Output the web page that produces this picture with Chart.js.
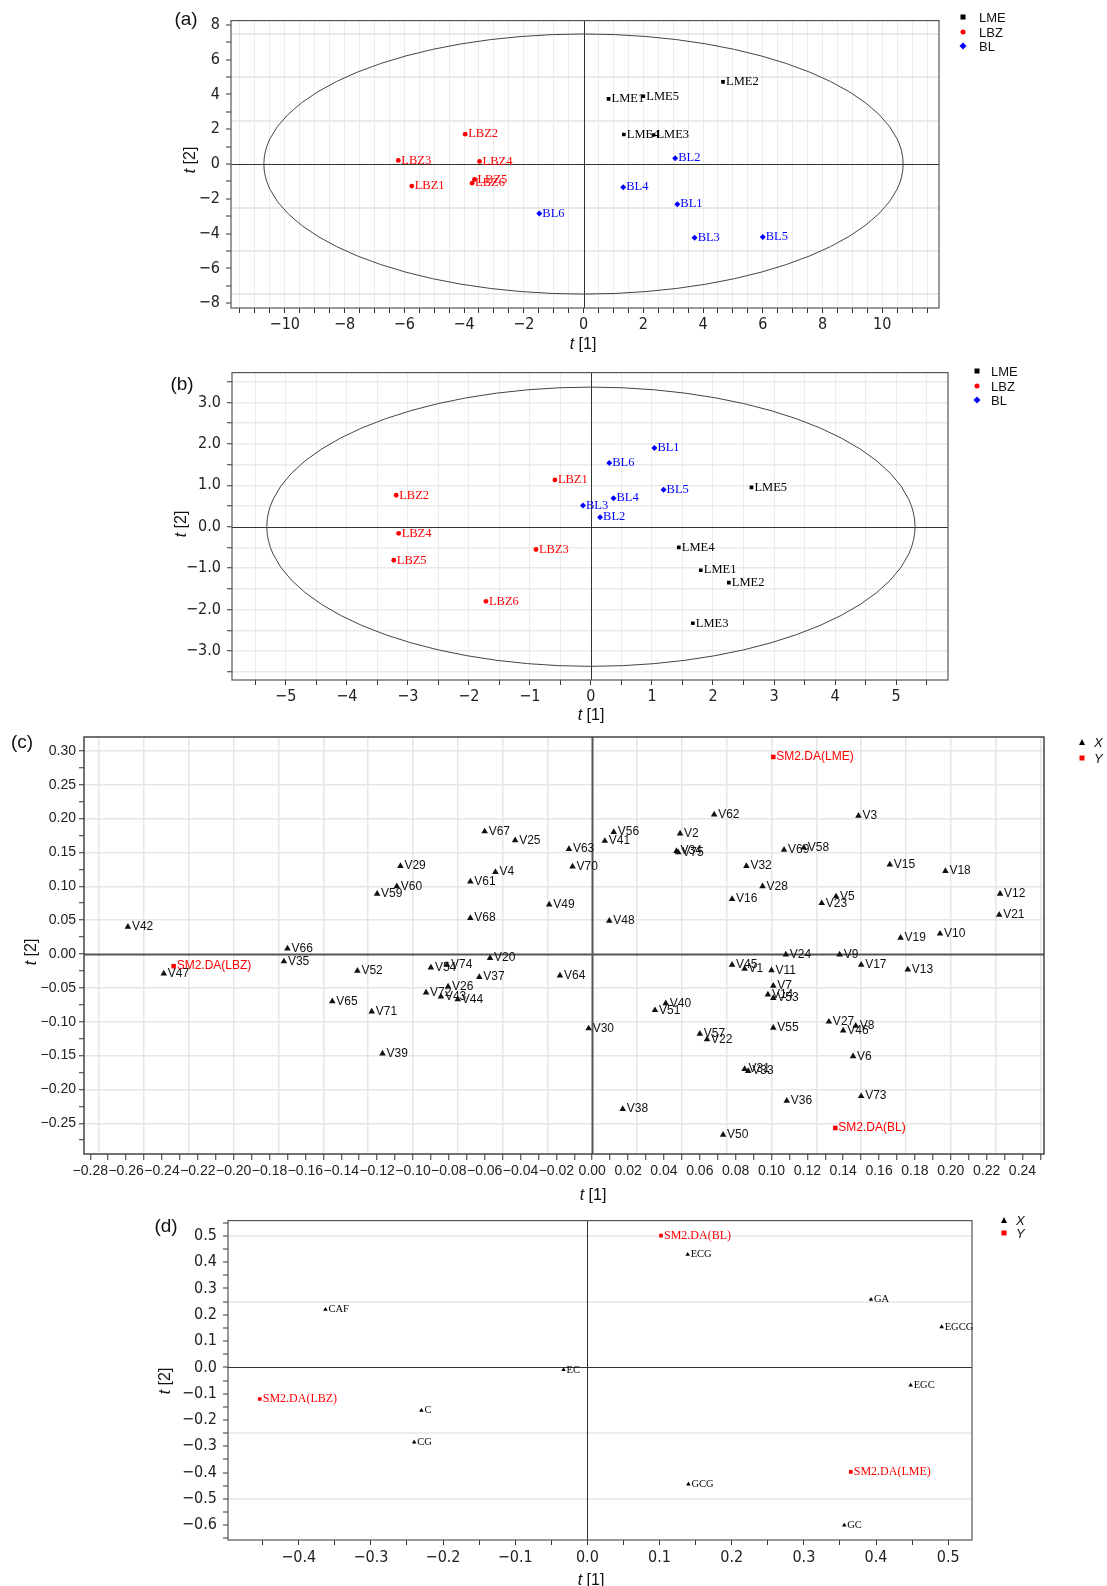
<!DOCTYPE html>
<html>
<head>
<meta charset="utf-8">
<script src="https://cdn.jsdelivr.net/npm/chart.js@4.4.0/dist/chart.umd.min.js"></script>
<style>
  body { margin: 0; background: #fff; width: 1107px; height: 1586px; position: relative; overflow: hidden;
         font-family: 'Liberation Sans', Arial, sans-serif; color: #111; }
  canvas { position: absolute; left: 0; }
  .t { position: absolute; white-space: nowrap; transform: translate(-50%, -50%); }
  .ttl { font-size: 16px; }
  .rot { transform: translate(-50%, -50%) rotate(-90deg); }
  .plab { font-size: 19px; }
  .lg { position: absolute; font-size: 13px; white-space: nowrap; transform: translateY(-50%); }
  .mk { position: absolute; transform: translate(-50%, -50%); }
</style>
</head>
<body>
<canvas id="chartA"></canvas>
<canvas id="chartB"></canvas>
<canvas id="chartC"></canvas>
<canvas id="chartD"></canvas>

<div class="t plab" style="left:186px;top:19px">(a)</div>
<div class="t plab" style="left:182px;top:384px">(b)</div>
<div class="t plab" style="left:22px;top:742px">(c)</div>
<div class="t plab" style="left:166px;top:1226px">(d)</div>

<div class="t ttl" style="left:583px;top:344px"><i>t</i> [1]</div>
<div class="t ttl rot" style="left:190px;top:160px"><i>t</i> [2]</div>
<div class="t ttl" style="left:591px;top:715px"><i>t</i> [1]</div>
<div class="t ttl rot" style="left:181px;top:524px"><i>t</i> [2]</div>
<div class="t ttl" style="left:593px;top:1195px"><i>t</i> [1]</div>
<div class="t ttl rot" style="left:31px;top:952px"><i>t</i> [2]</div>
<div class="t ttl" style="left:591px;top:1580px"><i>t</i> [1]</div>
<div class="t ttl rot" style="left:165px;top:1381px"><i>t</i> [2]</div>

<script>
// ===== DATA =====
// (a) scores, all samples
const aLmeNames = ['LME1', 'LME2', 'LME3', 'LME4', 'LME5'];
const aLmeT1 = [0.84, 4.67, 2.34, 1.35, 2.00];
const aLmeT2 = [3.75, 4.73, 1.67, 1.70, 3.90];
const aLbzNames = ['LBZ1', 'LBZ2', 'LBZ3', 'LBZ4', 'LBZ5', 'LBZ6'];
const aLbzT1 = [-5.75, -3.96, -6.20, -3.48, -3.65, -3.73];
const aLbzT2 = [-1.27, 1.72, 0.21, 0.15, -0.89, -1.10];
const aBlNames = ['BL1', 'BL2', 'BL3', 'BL4', 'BL5', 'BL6'];
const aBlT1 = [3.14, 3.07, 3.72, 1.33, 6.00, -1.48];
const aBlT2 = [-2.31, 0.34, -4.24, -1.33, -4.20, -2.84];

// (b) scores
const bLmeNames = ['LME1', 'LME2', 'LME3', 'LME4', 'LME5'];
const bLmeT1 = [1.80, 2.26, 1.67, 1.44, 2.63];
const bLmeT2 = [-1.05, -1.35, -2.33, -0.50, 0.95];
const bLbzNames = ['LBZ1', 'LBZ2', 'LBZ3', 'LBZ4', 'LBZ5', 'LBZ6'];
const bLbzT1 = [-0.59, -3.19, -0.90, -3.15, -3.23, -1.72];
const bLbzT2 = [1.13, 0.76, -0.55, -0.16, -0.81, -1.80];
const bBlNames = ['BL1', 'BL2', 'BL3', 'BL4', 'BL5', 'BL6'];
const bBlT1 = [1.04, 0.15, -0.13, 0.37, 1.19, 0.30];
const bBlT2 = [1.90, 0.23, 0.51, 0.69, 0.89, 1.54];

// (c) loadings, volatile variables (X) and classes (Y)
const cXNames = ['V1', 'V2', 'V3', 'V4', 'V5', 'V6', 'V7', 'V8', 'V9', 'V10',
  'V11', 'V12', 'V13', 'V14', 'V15', 'V16', 'V17', 'V18', 'V19', 'V20',
  'V21', 'V22', 'V23', 'V24', 'V25', 'V26', 'V27', 'V28', 'V29', 'V30',
  'V31', 'V32', 'V33', 'V34', 'V35', 'V36', 'V37', 'V38', 'V39', 'V40',
  'V41', 'V42', 'V43', 'V44', 'V45', 'V46', 'V47', 'V48', 'V49', 'V50',
  'V51', 'V52', 'V53', 'V54', 'V55', 'V56', 'V57', 'V58', 'V59', 'V60',
  'V61', 'V62', 'V63', 'V64', 'V65', 'V66', 'V67', 'V68', 'V69', 'V70',
  'V71', 'V72', 'V73', 'V74', 'V75'];
const cXT1 = [0.085, 0.049, 0.1485, -0.054, 0.136, 0.1455, 0.101, 0.147, 0.138, 0.194,
  0.100, 0.2275, 0.176, 0.098, 0.166, 0.078, 0.150, 0.197, 0.172, -0.057,
  0.227, 0.064, 0.128, 0.108, -0.043, -0.0804, 0.132, 0.095, -0.107, -0.002,
  0.085, 0.086, 0.087, 0.047, -0.172, 0.1085, -0.063, 0.017, -0.117, 0.041,
  0.007, -0.259, -0.0844, -0.075, 0.078, 0.140, -0.239, 0.0095, -0.024, 0.073,
  0.035, -0.131, 0.101, -0.090, 0.101, 0.012, 0.060, 0.118, -0.120, -0.109,
  -0.068, 0.068, -0.013, -0.018, -0.145, -0.170, -0.060, -0.068, 0.107, -0.011,
  -0.123, -0.0927, 0.150, -0.081, 0.048];
const cXT2 = [-0.022, 0.178, 0.204, 0.121, 0.085, -0.151, -0.047, -0.106, -0.001, 0.030,
  -0.024, 0.089, -0.023, -0.060, 0.132, 0.081, -0.016, 0.1225, 0.024, -0.006,
  0.058, -0.126, 0.075, -0.001, 0.168, -0.048, -0.100, 0.100, 0.130, -0.110,
  -0.170, 0.130, -0.173, 0.152, -0.011, -0.217, -0.034, -0.229, -0.147, -0.073,
  0.167, 0.040, -0.063, -0.067, -0.016, -0.113, -0.029, 0.049, 0.073, -0.267,
  -0.083, -0.025, -0.065, -0.020, -0.109, 0.180, -0.118, 0.157, 0.089, 0.100,
  0.107, 0.206, 0.155, -0.032, -0.070, 0.008, 0.181, 0.053, 0.154, 0.129,
  -0.085, -0.057, -0.210, -0.016, 0.150];
const cYNames = ['SM2.DA(LME)', 'SM2.DA(LBZ)', 'SM2.DA(BL)'];
const cYT1 = [0.101, -0.2335, 0.1356];
const cYT2 = [0.291, -0.018, -0.257];

// (d) loadings, catechins (X) and classes (Y)
const dXNames = ['GA', 'EGCG', 'EGC', 'ECG', 'EC', 'GCG', 'GC', 'C', 'CG', 'CAF'];
const dXT1 = [0.393, 0.491, 0.448, 0.139, -0.033, 0.140, 0.356, -0.230, -0.240, -0.363];
const dXT2 = [0.258, 0.154, -0.068, 0.429, -0.009, -0.444, -0.600, -0.164, -0.284, 0.220];
const dYNames = ['SM2.DA(BL)', 'SM2.DA(LBZ)', 'SM2.DA(LME)'];
const dYT1 = [0.102, -0.454, 0.365];
const dYT2 = [0.501, -0.120, -0.397];

// Hotelling ellipse half-axes for the score plots
const aEllipse = [10.7, 7.48];
const bEllipse = [5.31, 3.37];

// ===== HELPERS =====
const NARROW = "'DejaVu Sans Condensed', 'Liberation Sans Narrow', 'Liberation Sans', sans-serif";
const SANS = "'Liberation Sans', Arial, sans-serif";
const SERIF = "'Liberation Serif', 'Times New Roman', serif";
const AXIS_W = 70;
const AXIS_H = 40;
const PAD_T = 12;
const CLEAR = 'rgba(0,0,0,0)';

function isMult(v, m) {
  if (!m) return false;
  const r = v / m;
  return Math.abs(r - Math.round(r)) < 1e-6;
}

function tickList(min, max, step) {
  const out = [];
  const n0 = Math.ceil(min / step - 1e-9), n1 = Math.floor(max / step + 1e-9);
  for (let i = n0; i <= n1; i++) out.push(+(i * step).toFixed(6));
  return out;
}

function fmt(v, dec) {
  return (v < -1e-9 ? '\u2212' : '') + Math.abs(v).toFixed(dec);
}

function axisOpts(ax, pos) {
  return {
    type: 'linear',
    position: pos,
    min: ax.min,
    max: ax.max,
    afterBuildTicks: s => { s.ticks = tickList(ax.min, ax.max, ax.step).map(v => ({ value: v })); },
    afterFit: s => { if (pos === 'bottom') s.height = AXIS_H; else s.width = AXIS_W; },
    ticks: {
      autoSkip: false, maxRotation: 0, minRotation: 0,
      padding: ax.pad, color: '#222',
      font: { family: ax.font, size: ax.size },
      callback: v => isMult(v, ax.label) ? fmt(v, ax.dec) : ''
    },
    grid: {
      color: c => (c.tick && Math.abs(c.tick.value) > 1e-9 && isMult(c.tick.value, ax.grid)) ? ax.gridColor : CLEAR,
      lineWidth: ax.gridW,
      tickLength: ax.tickLen,
      tickWidth: 1,
      tickColor: c => (c.tick && isMult(c.tick.value, ax.tick)) ? '#333' : CLEAR
    },
    border: { display: false }
  };
}

function series(names, t1, t2, st) {
  return {
    data: t1.map((v, i) => ({ x: v, y: t2[i] })),
    names: names,
    pointStyle: st.shape,
    pointRadius: st.r,
    pointBorderWidth: 0,
    backgroundColor: st.color,
    borderColor: st.color,
    labelFont: st.font,
    labelColor: st.color,
    labelDx: st.dx
  };
}

// frame, zero lines, ellipse and point labels
const decoPlugin = {
  id: 'deco',
  beforeDatasetsDraw(chart, args, opts) {
    const { ctx, chartArea: a, scales: { x, y } } = chart;
    ctx.save();
    ctx.strokeStyle = opts.zeroColor;
    ctx.lineWidth = opts.zeroW;
    const x0 = Math.round(x.getPixelForValue(0)) + 0.5;
    const y0 = Math.round(y.getPixelForValue(0)) + 0.5;
    ctx.beginPath();
    ctx.moveTo(x0, a.top); ctx.lineTo(x0, a.bottom);
    ctx.moveTo(a.left, y0); ctx.lineTo(a.right, y0);
    ctx.stroke();
    if (opts.ellipse) {
      const rx = x.getPixelForValue(opts.ellipse[0]) - x.getPixelForValue(0);
      const ry = y.getPixelForValue(0) - y.getPixelForValue(opts.ellipse[1]);
      ctx.strokeStyle = '#444';
      ctx.lineWidth = 1;
      ctx.beginPath();
      ctx.ellipse(x.getPixelForValue(0), y.getPixelForValue(0), rx, ry, 0, 0, Math.PI * 2);
      ctx.stroke();
    }
    ctx.strokeStyle = opts.frameColor;
    ctx.lineWidth = opts.frameW;
    ctx.strokeRect(a.left, a.top, a.right - a.left, a.bottom - a.top);
    ctx.restore();
  },
  afterDatasetsDraw(chart) {
    const ctx = chart.ctx;
    chart.data.datasets.forEach((ds, i) => {
      if (!ds.names) return;
      const meta = chart.getDatasetMeta(i);
      ctx.save();
      ctx.font = ds.labelFont;
      ctx.fillStyle = ds.labelColor;
      ctx.textBaseline = 'middle';
      ctx.textAlign = 'left';
      meta.data.forEach((pt, j) => ctx.fillText(ds.names[j], pt.x + ds.labelDx, pt.y));
      ctx.restore();
    });
  }
};

function buildPanel(id, frame, xAx, yAx, datasets, deco) {
  const cv = document.getElementById(id);
  const h = frame.B - frame.T + PAD_T + AXIS_H;
  cv.width = 1107;
  cv.height = h;
  cv.style.top = (frame.T - PAD_T) + 'px';
  cv.style.width = '1107px';
  cv.style.height = h + 'px';
  return new Chart(cv.getContext('2d'), {
    type: 'scatter',
    data: { datasets: datasets },
    options: {
      responsive: false,
      animation: false,
      devicePixelRatio: 1,
      layout: { padding: { left: frame.L - AXIS_W, right: 1107 - frame.R, top: PAD_T, bottom: 0 } },
      plugins: { legend: { display: false }, tooltip: { enabled: false }, deco: deco },
      scales: { x: axisOpts(xAx, 'bottom'), y: axisOpts(yAx, 'left') }
    },
    plugins: [decoPlugin]
  });
}

function addLegend(mx, tx, y, shape, color, text, italic) {
  const m = document.createElement('div');
  m.className = 'mk';
  m.style.left = mx + 'px';
  m.style.top = y + 'px';
  if (shape === 'tri') {
    m.style.width = '0'; m.style.height = '0';
    m.style.borderLeft = '3px solid transparent';
    m.style.borderRight = '3px solid transparent';
    m.style.borderBottom = '6px solid ' + color;
  } else {
    m.style.width = '5px'; m.style.height = '5px';
    m.style.background = color;
    if (shape === 'circle') m.style.borderRadius = '50%';
    if (shape === 'diamond') m.style.transform = 'translate(-50%,-50%) rotate(45deg)';
  }
  document.body.appendChild(m);
  const t = document.createElement('div');
  t.className = 'lg';
  t.style.left = tx + 'px';
  t.style.top = y + 'px';
  t.style.fontStyle = italic ? 'italic' : 'normal';
  t.textContent = text;
  document.body.appendChild(t);
}

// ===== CHARTS =====
const scoreDeco = { zeroColor: '#333', zeroW: 1, frameColor: '#555', frameW: 1.2 };

function scoreSets(lmeN, lmeX, lmeY, lbzN, lbzX, lbzY, blN, blX, blY) {
  const f = '12.5px ' + SERIF;
  return [
    series(lmeN, lmeX, lmeY, { shape: 'rect', r: 2.6, color: '#000000', font: f, dx: 3 }),
    series(lbzN, lbzX, lbzY, { shape: 'circle', r: 2.4, color: '#ff0000', font: f, dx: 3 }),
    series(blN, blX, blY, { shape: 'rectRot', r: 3, color: '#0000ff', font: f, dx: 3 })
  ];
}

buildPanel('chartA', { L: 231, R: 939, T: 17, B: 308 },
  { min: -11.8, max: 11.9, step: 0.5, label: 2, dec: 0, tick: 0.5, grid: 0.5, gridColor: '#ececec', gridW: 1,
    tickLen: 5, pad: 2, font: NARROW, size: 16 },
  { min: -8.28, max: 8.25, step: 0.5, label: 2, dec: 0, tick: 1, grid: 2.5, gridColor: '#eaeaea', gridW: 2,
    tickLen: 5, pad: 6, font: NARROW, size: 16 },
  scoreSets(aLmeNames, aLmeT1, aLmeT2, aLbzNames, aLbzT1, aLbzT2, aBlNames, aBlT1, aBlT2),
  Object.assign({ ellipse: aEllipse }, scoreDeco));

buildPanel('chartB', { L: 232, R: 948, T: 369, B: 680 },
  { min: -5.88, max: 5.85, step: 0.25, label: 1, dec: 0, tick: 0.5, grid: 0.5, gridColor: '#ececec', gridW: 1,
    tickLen: 5, pad: 2, font: NARROW, size: 16 },
  { min: -3.7, max: 3.72, step: 0.25, label: 1, dec: 1, tick: 0.5, grid: 0.5, gridColor: '#eaeaea', gridW: 1.5,
    tickLen: 5, pad: 6, font: NARROW, size: 16 },
  scoreSets(bLmeNames, bLmeT1, bLmeT2, bLbzNames, bLbzT1, bLbzT2, bBlNames, bBlT1, bBlT2),
  Object.assign({ ellipse: bEllipse }, scoreDeco));

buildPanel('chartC', { L: 84, R: 1044, T: 737, B: 1154 },
  { min: -0.2835, max: 0.252, step: 0.005, label: 0.02, dec: 2, tick: 0.01, grid: 0.025, gridColor: '#e6e6e6', gridW: 1.5,
    tickLen: 6, pad: 3, font: SANS, size: 14 },
  { min: -0.2954, max: 0.3205, step: 0.025, label: 0.05, dec: 2, tick: 0.025, grid: 0.05, gridColor: '#e6e6e6', gridW: 1.5,
    tickLen: 5, pad: 3, font: SANS, size: 14 },
  [
    series(cXNames, cXT1, cXT2, { shape: 'triangle', r: 3.8, color: '#111111', font: '12px ' + SANS, dx: 4 }),
    series(cYNames, cYT1, cYT2, { shape: 'rect', r: 3.2, color: '#ff0000', font: '12px ' + SANS, dx: 3 })
  ],
  { zeroColor: '#555', zeroW: 2, frameColor: '#444', frameW: 1.5 });

buildPanel('chartD', { L: 228, R: 972, T: 1217, B: 1540 },
  { min: -0.498, max: 0.533, step: 0.05, label: 0.1, dec: 1, tick: 0.05, grid: 0, gridColor: CLEAR, gridW: 1,
    tickLen: 5, pad: 3, font: NARROW, size: 16 },
  { min: -0.656, max: 0.558, step: 0.05, label: 0.1, dec: 1, tick: 0.05, grid: 0.25, gridColor: '#ececec', gridW: 2,
    tickLen: 5, pad: 6, font: NARROW, size: 16 },
  [
    series(dXNames, dXT1, dXT2, { shape: 'triangle', r: 2.6, color: '#000000', font: '10.5px ' + SERIF, dx: 3 }),
    series(dYNames, dYT1, dYT2, { shape: 'rect', r: 2.6, color: '#ff0000', font: '12px ' + SERIF, dx: 3 })
  ],
  scoreDeco);

// legends
addLegend(963, 979, 17, 'rect', '#000', 'LME');
addLegend(963, 979, 31.5, 'circle', '#f00', 'LBZ');
addLegend(963, 979, 45.5, 'diamond', '#00f', 'BL');
addLegend(977, 991, 370.5, 'rect', '#000', 'LME');
addLegend(977, 991, 385.5, 'circle', '#f00', 'LBZ');
addLegend(977, 991, 400, 'diamond', '#00f', 'BL');
addLegend(1082, 1094, 742, 'tri', '#000', 'X', true);
addLegend(1082, 1094, 758, 'rect', '#f00', 'Y', true);
addLegend(1004, 1016, 1220, 'tri', '#000', 'X', true);
addLegend(1004, 1016, 1233, 'rect', '#f00', 'Y', true);
</script>
</body>
</html>
